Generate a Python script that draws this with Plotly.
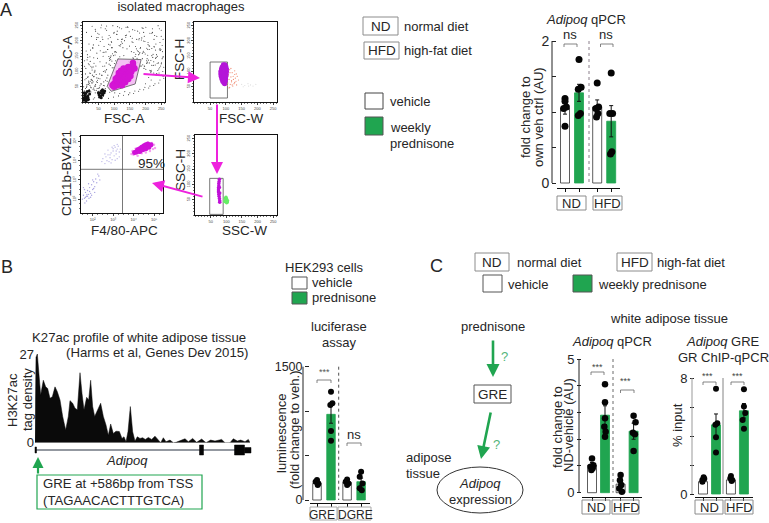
import plotly.graph_objects as go

W, H = 769, 523
GREEN = "#20a550"
INK = "#262626"
FONT = "Liberation Sans"

# ---------- Flow cytometry readings (axis units) ----------
fsc_noise_x = [8,14,20,26,33,40,12,18,24,30,38,46,52,60,16,22,28,36,44,50,58,66,72,10,6,18,30,42,54,66,78,88,96,
 15,25,35,45,55,65,75,85,95,105,20,32,44,56,68,80,92,104,116,128,12,28,40,52,64,76,88,100,112,124,136,148,
 30,48,60,72,84,96,110,124,138,152,166,180,194,208,222,236,250,150,160,170,178,186,195,203,212,220,228,238,246,254,
 160,172,184,196,208,220,232,244,256,155,168,181,194,207,220,233,246,175,188,201,214,227,240,253,190,205,220,235,250,
 22,38,54,70,86,102,118,134,150,166,182,198,214,230,246,18,34,50,66,82,98,114,130,146,162,178,194,210,226,242,258,
 175,185,195,205,215,225,235,245,255,200,210,218,226,234,242,250,
 5,9,13,17,21,25,29,7,11,19,23,27,31,35,37,41,43,47,49,53,55,57,59,61,63,67,69,71,73,77,
 3,33,47,61,79,83,91,97,101,107,113,119,127,131,141,147,157,163,173,179,183,191,199,209,213,223,229,241,249,257,
 14,26,39,51,62,74,87,93,109,117,123,139,149,161,169,177,187,197,207,217,227,237,247,255,
 11,23,36,49,58,68,81,89,99,111,121,137,143,153,167,181,193,201,211,219,231,243,253,
 9,21,34,41,56,64,76,94,103,133,159,171,189,203,216,224,239,251,258,176,198,222,244,165,152,
 6,16,24,32,45,65,82,90,108,126,144,158,174,192,206,218,232,252,
 70,80,88,76,92,84,98,72,86,94,102,110,118,190,196,204,214,226,236,248,256,182,212,234,
 13,19,27,35,43,31,39,25,17,47,55,63,29,37,45,21,33,41,51,59]
fsc_noise_y = [12,18,25,33,42,30,48,58,68,62,52,44,36,28,80,95,72,84,66,78,60,54,44,110,135,125,105,118,92,100,68,120,85,
 155,170,145,160,132,150,128,142,158,135,190,178,205,168,182,172,195,165,185,178,228,215,238,222,205,235,212,228,205,240,218,230,
 248,225,252,240,218,250,232,205,245,215,235,208,228,195,240,215,235,130,145,125,155,118,162,135,172,120,180,150,195,165,
 195,205,178,215,188,225,170,240,205,165,182,158,200,172,152,190,175,232,210,245,225,205,250,185,160,142,175,155,215,
 8,14,20,28,32,30,28,34,30,36,42,48,52,60,72,4,10,16,18,12,16,20,22,24,28,35,40,46,54,62,78,
 130,118,110,128,102,120,92,112,100,60,80,72,95,88,108,125,
 37,44,51,58,41,49,63,73,77,69,55,47,71,83,39,57,90,64,34,47,76,38,59,87,42,66,53,102,71,79,
 50,115,143,88,172,149,198,112,126,163,141,183,206,152,174,133,197,162,143,204,176,122,157,137,183,146,218,128,172,148,
 138,117,99,186,213,164,187,134,221,243,197,219,183,142,156,165,203,117,153,136,182,127,169,147,
 167,148,127,211,243,163,207,140,225,247,188,212,246,132,149,226,166,107,184,99,121,95,142,
 92,61,187,232,198,117,249,178,154,201,237,174,243,127,98,156,103,128,114,137,198,228,171,128,112,
 117,146,133,176,211,163,189,151,222,192,245,209,168,241,131,104,143,88,
 118,88,146,106,178,124,152,98,136,112,164,126,148,142,118,176,104,132,92,118,84,162,128,146,
 56,65,74,46,38,88,104,94,83,71,53,39,112,98,79,122,66,52,44,36]
fsc_debris_x = [4,8,12,16,6,10,14,3,7,11,18,22,20,52,58,62,66,56,60,64,54,68,9,13,5,17,50,70,59,63]
fsc_debris_y = [6,10,14,20,22,28,34,12,16,4,8,26,36,24,20,28,34,30,36,24,16,30,18,7,30,14,30,36,14,40]
fsc_gate_x = [78,112,186,167,91,78]
fsc_gate_y = [51,141,139,59,35,51]
fsc_blob_x = [95,100,105,110,115,120,125,130,135,140,145,150,155,160,105,110,115,120,125,130,135,140,145,110,115,120,125,130,135,140,145,150,155,115,122,130,125,135,145,152,165,160,100]
fsc_blob_y = [55,60,65,70,75,80,85,90,95,100,105,110,115,120,75,80,85,90,95,100,105,110,115,55,60,65,70,75,80,85,90,95,100,95,102,110,55,65,75,85,110,128,50]

fscw_gate_x = [50,105,105,50,50]
fscw_gate_y = [13,13,131,131,13]
fscw_blob_x = [92,88,86,84,84,85,87,90,93,96,98,99,100,101,102,102,100,97,94,90,93,97]
fscw_blob_y = [122,115,108,100,92,84,76,68,64,60,68,76,84,92,100,108,116,122,110,96,84,72]
fscw_red_x = [104,108,112,116,120,124,128,132,136,140,106,110,114,118,122,126,130,134,108,113,118,123,128,133,112,120,128,105,110,116]
fscw_red_y = [100,90,106,82,96,74,90,68,84,72,62,74,58,66,52,60,78,56,86,96,70,84,64,92,48,56,102,54,46,110]
fscw_faint_x = [150,160,170,178,186,195,155,172]
fscw_faint_y = [58,54,60,56,52,58,50,52]

apc_blob_x = [4.05,4.15,4.25,4.35,4.45,4.55,4.65,4.75,4.85,4.2,4.3,4.4,4.5,4.6,4.7,4.3,4.45,4.6,4.75]
apc_blob_y = [4.42,4.46,4.52,4.58,4.64,4.7,4.76,4.8,4.82,4.56,4.62,4.7,4.76,4.82,4.86,4.48,4.56,4.62,4.7]
apc_halo_x = [3.9,3.95,4.0,4.1,4.2,4.35,4.5,4.7,4.9,5.0,5.05,4.95,4.8,4.6,4.4,4.15]
apc_halo_y = [4.35,4.5,4.3,4.62,4.25,4.72,4.85,4.93,4.92,4.82,4.66,4.6,4.5,4.42,4.38,4.34]
apc_ul_x = [2.45,2.5,2.6,2.65,2.7,2.75,2.8,2.85,2.9,2.95,3.0,3.05,3.1,3.15,3.2,3.25,3.3,3.35,2.6,2.75,2.9,3.05,3.2,3.0,3.1,3.2,3.3,2.85,2.95,3.15]
apc_ul_y = [3.95,4.1,3.85,4.2,4.0,4.3,3.95,4.15,4.4,4.05,4.5,4.25,4.7,4.35,4.6,4.75,4.45,4.6,4.35,4.55,3.88,4.78,4.1,4.62,4.02,4.85,4.2,4.3,4.7,4.5]
apc_ll_x = [1.5,1.55,1.6,1.65,1.7,1.75,1.8,1.85,1.9,1.95,2.0,2.05,2.1,2.15,2.2,2.3,1.6,1.7,1.8,1.9,2.0,2.1,1.55,1.65,1.75,1.85,1.95,2.05,2.25,2.35,1.62,1.72,1.82]
apc_ll_y = [2.0,2.2,2.05,2.35,2.15,2.45,2.25,2.6,2.3,2.75,2.5,2.9,2.65,3.05,2.85,3.2,2.5,1.9,2.8,2.1,3.0,2.35,2.6,2.1,2.15,2.4,2.2,2.55,3.3,3.0,1.8,2.25,2.05]
apc_cross_x = 3.46
apc_cross_y = 3.55

sscw_gate_x = [47,90,90,47,47]
sscw_gate_y = [2,2,120,120,2]
sscw_blob_x = [78,77,76,76,75,75,75,76,77,78,79,79,79,78]
sscw_blob_y = [117,110,103,96,89,82,75,68,61,54,47,42,72,90]
sscw_green_x = [95,98,101,104,97,100,103,99,101]
sscw_green_y = [44,48,52,47,55,44,42,58,40]

flow_ticks = [50,100,150,200,250]
apc_ticks_x = [2,3,4,5]
apc_ticks_y = [2,3,4,5]
apc_tick_text = ["10²","10³","10⁴","10⁵"]

# ---------- Track ----------
track_pos = [0,3,7,11,17,25,32,38,45,52,60,67,75,83,92,100,105,113,120,127,135,141,147,155,161,167,173,179,187,197,205,213,220,227,235,243,253,261,267,273,279,286,293,300,307,315,323,331,340,350,360,370,377,385,393,405,415,423,435,450,460,473,485,500,513,527,540,560,570,585,595,607,617,630,640,645]
track_val = [0,26,27,21,14.5,19,17,16.5,13.5,14,17,15.5,13,8,3.9,8,12.8,12,10.5,10,21.3,15,10,13.8,13,19,11,8,9.7,12,8,5.4,2.3,5.7,2.8,3.5,3.4,1.3,1.8,0.3,3.4,11,3.3,0.5,1.8,1.3,1.5,1,1.6,1,2,1,0,1.5,0.3,0.8,0,0.1,0.5,1.2,0.3,1.3,0.1,1.1,0,0.8,0.5,1,0,0,1.2,0.5,0.8,0.3,1,0]

# ---------- Bars ----------
bar_A_x = [0,1,2.3,3.3]
bar_A_mean = [1.05,1.27,1.07,0.87]
bar_A_err = [0.08,0.12,0.10,0.22]
bar_A_dots = [[1.19,1.15,1.07,1.05,0.8],[1.74,1.35,1.32,0.98,0.95],[1.41,1.07,1.05,0.98,0.93],[1.55,0.98,0.98,0.44,0.41]]
bar_A_dx = [[0,0,0.1,-0.1,0],[0,0.15,-0.05,0.1,-0.05],[0,0.1,-0.1,0.05,-0.05],[0,0.1,-0.1,0.05,-0.05]]

bar_B_x = [0,1,2.15,3.15]
bar_B_mean = [187,964,200,206]
bar_B_err = [12,100,14,40]
bar_B_dots = [[225,206,187,169],[1219,1088,1069,776,668],[232,206,187,169],[319,262,187,131,110]]
bar_B_dx = [[0,-0.1,0.1,0.05],[0,0.1,-0.05,0,0],[0,-0.1,0.1,0],[0,-0.1,0.1,-0.1,0.05]]

bar_C1_x = [0,1,2.2,3.2]
bar_C1_mean = [1.03,2.9,0.32,2.3]
bar_C1_err = [0.1,0.35,0.13,0.3]
bar_C1_dots = [[1.28,1.03,0.97,0.91,0.85],[4.06,3.38,2.78,2.47,2.28,2.09],[0.66,0.47,0.29,0.16,0.04],[2.88,2.63,2.24,2.19,1.56]]
bar_C1_dx = [[0,0.1,-0.1,0.05,-0.05],[0,0,0,-0.05,0.05,0],[0,-0.05,0.05,-0.1,0.1],[0,0.15,-0.05,0.1,0]]

bar_C2_x = [0,1,2.15,3.15]
bar_C2_mean = [0.85,4.77,0.97,5.74]
bar_C2_err = [0.12,0.75,0.1,0.5]
bar_C2_dots = [[1.15,1.06,0.97,0.85],[7.26,4.88,4.77,3.92,2.86],[1.24,1.08,0.97,0.9],[7.23,6.04,5.58,5.1,4.5]]
bar_C2_dx = [[0.05,0.1,-0.05,-0.05],[0,0.1,-0.05,0,0],[0,-0.05,0.1,0.05],[0,0,0.1,-0.1,0]]

BAR_COLORS = ["white",GREEN,"white",GREEN]


def px(x): return x/W
def py(y): return 1-y/H

fig = go.Figure()
shapes, ann = [], []
layout_axes = {}
axis_counter = [0]

def new_axes(x0,x1,ytop,ybot,xa,ya):
    axis_counter[0]+=1
    n = axis_counter[0]
    sx = "" if n==1 else str(n)
    layout_axes["xaxis"+sx] = dict(domain=[px(x0),px(x1)],anchor="y"+sx,automargin=False,**xa)
    layout_axes["yaxis"+sx] = dict(domain=[py(ybot),py(ytop)],anchor="x"+sx,automargin=False,**ya)
    return "x"+sx,"y"+sx

def text(x,y,s,size=13,anchor="center",rot=0,color=INK,va="middle"):
    ann.append(dict(x=px(x),y=py(y),xref="paper",yref="paper",text=s,showarrow=False,
        font=dict(size=size,color=color,family=FONT),xanchor=anchor,yanchor=va,textangle=rot,
        borderpad=0,align="left"))

def rect(x0,y0,x1,y1,line="#8c8c8c",fill="rgba(0,0,0,0)",w=1):
    shapes.append(dict(type="rect",xref="paper",yref="paper",x0=px(x0),x1=px(x1),y0=py(y0),y1=py(y1),
        line=dict(color=line,width=w),fillcolor=fill,layer="above"))

def line(x0,y0,x1,y1,color="#222",w=1,dash="solid"):
    shapes.append(dict(type="line",xref="paper",yref="paper",x0=px(x0),x1=px(x1),y0=py(y0),y1=py(y1),
        line=dict(color=color,width=w,dash=dash)))

def arrow(x0,y0,x1,y1,color,w=2,size=1.2):
    ann.append(dict(x=px(x1),y=py(y1),xref="paper",yref="paper",ax=x0-x1,ay=y0-y1,axref="pixel",ayref="pixel",
        text="",showarrow=True,arrowhead=2,arrowsize=size,arrowwidth=w,arrowcolor=color,standoff=0))

def bracket(x0,x1,y,drop=3):
    line(x0,y+drop,x0,y,"#666",0.8); line(x0,y,x1,y,"#666",0.8); line(x1,y,x1,y+drop,"#666",0.8)

def flow_axis(ticks,labels=None,angle=0,rng=(0,262),minor=10):
    d = dict(range=list(rng),showgrid=False,zeroline=False,showline=True,linecolor="#111",linewidth=1.3,mirror=True,
        ticks="outside",ticklen=2,tickwidth=0.6,tickcolor="#444",tickvals=ticks,
        tickfont=dict(size=4,color="#444",family=FONT),tickangle=angle,
        minor=dict(dtick=minor,ticks="outside",ticklen=1,tickcolor="#777",tickwidth=0.5,showgrid=False))
    if labels: d["ticktext"]=labels
    return d

def pts(xa,ya,x,y,color,size,opacity=1,mode="markers"):
    fig.add_trace(go.Scatter(x=x,y=y,xaxis=xa,yaxis=ya,mode=mode,
        marker=dict(color=color,size=size,opacity=opacity,line=dict(width=0)),showlegend=False,hoverinfo="skip"))

def gate(xa,ya,x,y,fill=None):
    fig.add_trace(go.Scatter(x=x,y=y,xaxis=xa,yaxis=ya,mode="lines",line=dict(color="#555",width=0.8),
        fill="toself" if fill else None,fillcolor=fill,showlegend=False,hoverinfo="skip"))

# Overlay axes for the labels that touch the top edge
page_xa,page_ya = new_axes(0,W,0,H,dict(range=[0,W],visible=False),dict(range=[H,0],visible=False))
fig.add_trace(go.Scatter(x=[181,0],y=[8,11],xaxis=page_xa,yaxis=page_ya,mode="text",
    text=["isolated macrophages","A"],textposition=["middle center","middle right"],
    textfont=dict(size=[13,18],color=INK,family=FONT),showlegend=False,hoverinfo="skip",cliponaxis=False))

# Flow 1
xa,ya = new_axes(82.7,165,22,102,flow_axis(flow_ticks),flow_axis(flow_ticks,angle=-90))
pts(xa,ya,fsc_noise_x,fsc_noise_y,"#444",1.1)
pts(xa,ya,fsc_debris_x,fsc_debris_y,"#111",3)
gate(xa,ya,fsc_gate_x,fsc_gate_y,"rgba(243,185,243,0.9)")
pts(xa,ya,fsc_blob_x,fsc_blob_y,"#d414d4",6.5)
# Flow 2
xa,ya = new_axes(194.3,277,22,102,flow_axis(flow_ticks),flow_axis(flow_ticks,angle=-90))
gate(xa,ya,fscw_gate_x,fscw_gate_y)
pts(xa,ya,fscw_faint_x,fscw_faint_y,"#ddd",1.2)
pts(xa,ya,fscw_red_x,fscw_red_y,"#f08a70",1.2)
pts(xa,ya,fscw_blob_x,fscw_blob_y,"#b414d8",5)
# Flow 3
xa,ya = new_axes(81,163,136,213,flow_axis(apc_ticks_x,apc_tick_text,rng=(1.43,5.44),minor=0.25),
                 flow_axis(apc_ticks_y,apc_tick_text,angle=-90,rng=(1.28,5.28),minor=0.25))
pts(xa,ya,apc_ul_x,apc_ul_y,"#b4aee4",1.3)
pts(xa,ya,apc_ll_x,apc_ll_y,"#a8a2e0",1.4)
pts(xa,ya,apc_halo_x,apc_halo_y,"#f5a0f0",2.5)
pts(xa,ya,apc_blob_x,apc_blob_y,"#d010d8",5)
fig.add_trace(go.Scatter(x=[apc_cross_x,apc_cross_x,None,1.43,5.44],y=[1.28,5.28,None,apc_cross_y,apc_cross_y],
    xaxis=xa,yaxis=ya,mode="lines",line=dict(color="#555",width=0.8),showlegend=False,hoverinfo="skip"))
# Flow 4
xa,ya = new_axes(195,277,135,215,flow_axis(flow_ticks),flow_axis(flow_ticks,angle=-90))
gate(xa,ya,sscw_gate_x,sscw_gate_y)
pts(xa,ya,sscw_green_x,sscw_green_y,"#66ee66",3.5)
pts(xa,ya,sscw_blob_x,sscw_blob_y,"#c010d8",3.5)

# Flow text / arrows
text(67,57,"SSC-A",13.5,rot=-90); text(124,118,"FSC-A",13.5)
text(180,60,"FSC-H",13.5,rot=-90); text(241,118,"FSC-W",13.5)
text(67,173,"CD11b-BV421",13.5,rot=-90); text(125,230,"F4/80-APC",13.5)
text(180,170,"SSC-H",13.5,rot=-90); text(244,230,"SSC-W",13.5)
text(151,163,"95%",13.5)
text(0,267,"B",18,anchor="left"); text(429,266,"C",18,anchor="left")
MAG = "#ee22dd"
arrow(142,74,200,78,MAG); arrow(217,103,217,174,MAG); arrow(204,197,152,183,MAG)

# Track
xa,ya = new_axes(35,250,354,442.7,
    dict(range=[0,645],visible=False),
    dict(range=[0,27],showgrid=False,zeroline=False,showline=False,tickvals=[0,27],ticklen=0,
         tickfont=dict(size=13,color=INK,family=FONT)))
fig.add_trace(go.Scatter(x=track_pos,y=track_val,xaxis=xa,yaxis=ya,mode="lines",fill="tozeroy",
    fillcolor="#0a0a0a",line=dict(color="#0a0a0a",width=0.5),showlegend=False,hoverinfo="skip"))
text(12,400,"H3K27ac",rot=-90); text(27,400,"tag density",rot=-90)
text(139,337,"K27ac profile of white adipose tissue",13.2)
text(250,352,"(Harms et al, Genes Dev 2015)",13.2,anchor="right")
line(35,450,250,450,"#6f7680",1.5)
for a,b,t,u in [(35,36.5,447,453),(199.5,203.5,445,455),(234.5,244.5,445,455),(244.5,251,447.5,453)]:
    rect(a,t,b,u,"#050505","#050505",0.5)
text(127,460,"<i>Adipoq</i>")
arrow(38,475,38,457,GREEN,2.2,1)
rect(37,475,202,509,GREEN,"rgba(0,0,0,0)",1.2)
text(42,483.5,"GRE at +586bp from TSS",13.2,anchor="left")
text(42,500,"(TAGAACACTTTGTCA)",13.2,anchor="left")

# Bar panels
def bar_panel(xv,means,errs,dots,dx,unit_px,x_left,x0_px,x1_px,y0_px,ytop_px,ymax,yline_px,tickv,tickt,bw_px,dot,tick_size):
    per = (y0_px-ytop_px)/ymax
    ymin = -(yline_px-y0_px)/per
    rx = [(x0_px-x_left)/unit_px,(x1_px-x_left)/unit_px]
    xa,ya = new_axes(x0_px,x1_px,ytop_px,yline_px,
        dict(range=rx,showgrid=False,zeroline=False,showline=True,linecolor="#111",linewidth=1.2,
             tickvals=xv,ticktext=["","","",""],ticks="outside",ticklen=3,tickwidth=1,tickcolor="#111"),
        dict(range=[ymin,ymax],showgrid=False,zeroline=False,showline=False,tickvals=tickv,ticktext=tickt,
             ticks="outside",ticklen=4,tickwidth=1,tickcolor="#222",
             tickfont=dict(size=tick_size,color=INK,family=FONT)))
    fig.add_trace(go.Bar(x=xv,y=means,xaxis=xa,yaxis=ya,width=bw_px/unit_px,
        marker=dict(color=BAR_COLORS,line=dict(color=["#333",GREEN,"#333",GREEN],width=0.8)),
        error_y=dict(type="data",array=errs,color="#111",thickness=1,width=2),showlegend=False,hoverinfo="skip"))
    for xc,ys,ds in zip(xv,dots,dx):
        fig.add_trace(go.Scatter(x=[xc+d for d in ds],y=ys,xaxis=xa,yaxis=ya,mode="markers",
            marker=dict(color="#050505",size=dot,line=dict(width=0)),showlegend=False,hoverinfo="skip"))

# A bar
bar_panel(bar_A_x,bar_A_mean,bar_A_err,bar_A_dots,bar_A_dx,14,565,557,620,183,41,2,188,[0,0.5,1,1.5,2],["0","","","","2"],9,7,14)
line(552,41,552,183,"#222",1)
line(589,41,589,183,"#8a7f8a",1,"dot")
bracket(564,577,44); bracket(600.5,613,44)
text(570,35,"ns"); text(606,35,"ns")
text(586,19,"<i>Adipoq</i> qPCR")
text(525,117,"fold change to",rot=-90); text(538,117,"own veh ctrl (AU)",rot=-90)
rect(557,196,586,210); text(571.5,203,"ND",13)
rect(593,196,622,210); text(607.5,203,"HFD",13)

rect(363,17,398,35); text(381,26,"ND",13.5); text(403,26,"normal diet",anchor="left")
rect(364,42,399,59); text(381.5,50.5,"HFD",13.5); text(403,50.5,"high-fat diet",anchor="left")
rect(365,93,383,109,"#444"); text(389,101,"vehicle",anchor="left")
rect(365,117,383,135,"#555",GREEN); text(389,127,"weekly",anchor="left"); text(389,143,"prednisone",anchor="left")

# B bar
bar_panel(bar_B_x,bar_B_mean,bar_B_err,bar_B_dots,bar_B_dx,14,317,310,370,500,366.7,1500,503,[0,500,1000,1500],["0","","","1500"],8.5,6,12.5)
line(303,366.7,303,500,"#222",1)
line(338.7,366.7,338.7,500,"#222",0.8,"dot")
bracket(317,331,380); bracket(347,361,443)
text(324,372,"***",9,color="#555"); text(353.5,434,"ns")
text(281,433,"luminescence",rot=-90); text(294,430,"(fold change to veh.)",rot=-90)
rect(310,507,337,520,"#aaa"); text(322,515,"GRE",12)
rect(338,507,371,520,"#aaa"); text(355,515,"DGRE",12)
text(324,267,"HEK293 cells")
rect(292,277,307,289,"#555"); text(311,282,"vehicle",anchor="left")
rect(292,292,307,304,"#555",GREEN); text(311,297,"prednisone",anchor="left")
text(339,326,"luciferase"); text(339,342,"assay")

# C legend & scheme
rect(475,253,509,271); text(492,262,"ND",13.5); text(516,262,"normal diet",anchor="left")
rect(617,253,652,271); text(634.5,262,"HFD",13.5); text(656,262,"high-fat diet",anchor="left")
rect(483,275,502,292,"#555"); text(507,284,"vehicle",anchor="left")
rect(573,275,592,292,"#555",GREEN); text(597,284,"weekly prednisone",anchor="left")
text(669,318,"white adipose tissue")
text(493,326,"prednisone")
arrow(493,339,493,377,GREEN,2.6,1)
text(504,356,"?",color="#55b57a")
rect(474,385,511,403,"#555"); text(492.5,394,"GRE",13.5)
arrow(491,411,481,459,GREEN,2.6,1)
text(496,444,"?",color="#55b57a")
text(405,457,"adipose",anchor="left"); text(405,473,"tissue",anchor="left")
shapes.append(dict(type="circle",xref="paper",yref="paper",x0=px(437),x1=px(523),y0=py(467),y1=py(513),line=dict(color="#333",width=1)))
text(480,483,"<i>Adipoq</i>"); text(480,499,"expression")

# C bars
bar_panel(bar_C1_x,bar_C1_mean,bar_C1_err,bar_C1_dots,bar_C1_dx,13,592,582,642,492.7,359,5,497,[0,1,2,3,4,5],["0","","","","","5"],9,6.5,13)
line(579,359,579,492.7,"#222",1)
line(613,359,613,492.7,"#444",0.8,"dot")
bracket(591,604,372); bracket(620.5,634,390)
text(597,367,"***",9,color="#444"); text(625,381,"***",9,color="#444")
text(612,341,"<i>Adipoq</i> qPCR")
text(557,427,"fold change to",rot=-90); text(568,425,"ND-vehicle (AU)",rot=-90)
rect(582,500,610,514); text(596,507,"ND",13)
rect(612,500,639,514); text(626,507,"HFD",13)

bar_panel(bar_C2_x,bar_C2_mean,bar_C2_err,bar_C2_dots,bar_C2_dx,13,703,695,753,494,378,8,497,[0,2,4,6,8],["0","","","","8"],9,6,13)
line(692,378,692,494,"#999",1)
line(723,378,723,494,"#666",0.8)
bracket(703,716,382); bracket(731,744,382)
text(707,376,"***",9,color="#444"); text(737,376,"***",9,color="#444")
text(723,341,"<i>Adipoq</i> GRE"); text(723,357,"GR ChIP-qPCR")
text(677,425,"% input",rot=-90)
rect(695,500,723,514); text(709,507,"ND",13)
rect(725,500,753,514); text(739,507,"HFD",13)

fig.update_layout(width=W,height=H,margin=dict(l=0,r=0,t=0,b=0),autosize=False,paper_bgcolor="white",plot_bgcolor="rgba(0,0,0,0)",
    showlegend=False,shapes=shapes,annotations=ann,font=dict(family=FONT,color=INK),barmode="overlay",**layout_axes)
fig.write_html("out.html",config=dict(displayModeBar=False),post_script="document.body.style.margin='0';")
